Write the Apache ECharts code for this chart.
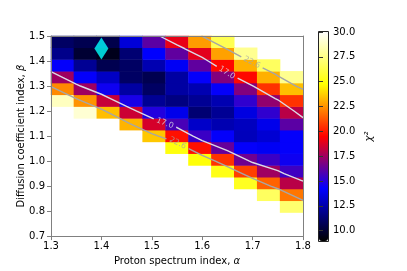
<!DOCTYPE html>
<html><head><meta charset="utf-8">
<script src="https://cdn.jsdelivr.net/npm/echarts@6/dist/echarts.min.js"></script>
<style>html,body{margin:0;padding:0;background:#fff}#c{width:407px;height:271px}</style>
</head><body><div id="c"></div>
<script>
// ---------------- data ----------------
const alphaValues = [1.30, 1.35, 1.40, 1.45, 1.50, 1.55, 1.60, 1.65, 1.70, 1.75, 1.80];
const betaValues  = [0.70, 0.75, 0.80, 0.85, 0.90, 0.95, 1.00, 1.05, 1.10, 1.15, 1.20, 1.25, 1.30, 1.35, 1.40, 1.45, 1.50];
// chi^2 per beta row (columns follow alphaValues); null = white cell (above colour range, not readable)
const chi2_b150 = [11.0, 10.6, 10.5, 13.4, 16.1, 19.0, 22.7, 26.4, null, null, null];
const chi2_b145 = [11.8, 10.0,  9.5, 11.3, 14.2, 16.2, 18.9, 22.8, 27.7, null, null];
const chi2_b140 = [14.3, 12.0, 10.6, 11.0, 12.6, 14.0, 16.2, 19.6, 23.1, 26.7, null];
const chi2_b135 = [17.5, 14.3, 13.0, 11.0, 10.6, 12.3, 14.3, 16.9, 19.6, 23.1, 27.7];
const chi2_b130 = [22.3, 17.5, 14.5, 12.3, 11.0, 12.3, 12.6, 14.3, 16.9, 20.5, 23.4];
const chi2_b125 = [28.7, 22.5, 18.3, 14.7, 12.0, 11.6, 12.0, 12.6, 15.2, 17.2, 20.5];
const chi2_b120 = [null, 29.1, 23.4, 18.4, 14.9, 13.8, 11.3, 12.0, 13.6, 15.2, 18.0];
const chi2_b115 = [null, null, null, 23.2, 18.6, 15.7, 13.1, 12.6, 12.9, 13.8, 16.1];
const chi2_b110 = [null, null, null, null, 23.6, 19.8, 15.4, 14.3, 12.8, 13.3, 14.3];
const chi2_b105 = [null, null, null, null, null, 25.0, 19.8, 16.3, 14.3, 14.0, 14.3];
const chi2_b100 = [null, null, null, null, null, null, 24.9, 20.5, 16.5, 15.4, 14.5];
const chi2_b095 = [null, null, null, null, null, null, null, 25.2, 20.8, 17.5, 15.5];
const chi2_b090 = [null, null, null, null, null, null, null, null, 25.4, 21.5, 18.0];
const chi2_b085 = [null, null, null, null, null, null, null, null, null, 26.7, 21.9];
const chi2_b080 = [null, null, null, null, null, null, null, null, null, null, 27.0];
const chi2_b075 = [null, null, null, null, null, null, null, null, null, null, null];
const chi2_b070 = [null, null, null, null, null, null, null, null, null, null, null];
const contourLevels = [17.0, 22.6];
const bestFit = [1.40, 1.45];
const xTicks = [1.3, 1.8];          // axis range
const yTicks = [0.7, 1.5];
const colorRange = [8.95, 30.0];
const colorbarTicks = [10.0, 12.5, 15.0, 17.5, 20.0, 22.5, 25.0, 27.5, 30.0];

// ---------------- layout / style ----------------
const GRID = {left: 51, top: 36, width: 252, height: 201};
const CB = {left: 319, top: 32, width: 9, height: 209};
const FONT = 'DejaVu Sans';
const FRAME = '#808080';
const cmap = ['#000000', '#0000ff', '#ff0000', '#ffff00', '#ffffff'];
const contourColors = {'17': '#dadae6', '22.6': '#a6a6a6'};
const labelSpots = [
  {level: 17.0, near: [1.649, 1.353]},
  {level: 17.0, near: [1.526, 1.151]},
  {level: 22.6, near: [1.699, 1.396]},
  {level: 22.6, near: [1.550, 1.066]}
];
const GAP = 12;

const z = [chi2_b070, chi2_b075, chi2_b080, chi2_b085, chi2_b090, chi2_b095, chi2_b100, chi2_b105,
           chi2_b110, chi2_b115, chi2_b120, chi2_b125, chi2_b130, chi2_b135, chi2_b140, chi2_b145, chi2_b150];

const heatData = [];
z.forEach((row, j) => row.forEach((v, i) => { if (v != null) heatData.push([i, j, v]); }));

// ---------------- marching squares ----------------
function contourSegments(level) {
  const segs = [];
  const val = v => (v == null ? Infinity : v);
  for (let j = 0; j < betaValues.length - 1; j++) {
    for (let i = 0; i < alphaValues.length - 1; i++) {
      const v = [val(z[j][i]), val(z[j][i + 1]), val(z[j + 1][i + 1]), val(z[j + 1][i])];
      const p = [[alphaValues[i], betaValues[j]], [alphaValues[i + 1], betaValues[j]],
                 [alphaValues[i + 1], betaValues[j + 1]], [alphaValues[i], betaValues[j + 1]]];
      const keys = ['h' + i + '_' + j, 'v' + (i + 1) + '_' + j, 'h' + i + '_' + (j + 1), 'v' + i + '_' + j];
      const pts = [];
      for (let e = 0; e < 4; e++) {
        const a = e, b = (e + 1) % 4, va = v[a], vb = v[b];
        if ((va < level) !== (vb < level)) {
          let t = (level - va) / (vb - va);
          if (!isFinite(t)) t = isFinite(va) ? 0 : 1;
          pts.push({key: keys[e], pt: [p[a][0] + t * (p[b][0] - p[a][0]), p[a][1] + t * (p[b][1] - p[a][1])]});
        }
      }
      if (pts.length === 2) segs.push([pts[0], pts[1]]);
      else if (pts.length === 4) {
        const c = (v[0] + v[1] + v[2] + v[3]) / 4;
        if ((c < level) === (v[0] < level)) { segs.push([pts[0], pts[1]]); segs.push([pts[2], pts[3]]); }
        else { segs.push([pts[3], pts[0]]); segs.push([pts[1], pts[2]]); }
      }
    }
  }
  return segs;
}
function chain(segs) {
  const byKey = {};
  segs.forEach((s, idx) => s.forEach(q => (byKey[q.key] = byKey[q.key] || []).push(idx)));
  const used = segs.map(() => false);
  const isEnd = s => s.some(q => byKey[q.key].length === 1);
  const order = segs.map((s, i) => i).sort((a, b) => (isEnd(segs[a]) ? 0 : 1) - (isEnd(segs[b]) ? 0 : 1));
  const lines = [];
  for (const st of order) {
    if (used[st]) continue;
    used[st] = true;
    let a = segs[st][0], b = segs[st][1];
    if (byKey[a.key].length !== 1 && byKey[b.key].length === 1) { const t = a; a = b; b = t; }
    const line = [a.pt, b.pt];
    let cur = b.key;
    for (;;) {
      const nx = (byKey[cur] || []).find(k => !used[k]);
      if (nx === undefined) break;
      used[nx] = true;
      const far = segs[nx][0].key === cur ? segs[nx][1] : segs[nx][0];
      line.push(far.pt); cur = far.key;
    }
    lines.push(line);
  }
  return lines;
}
const sx = GRID.width / (xTicks[1] - xTicks[0]);
const sy = GRID.height / (yTicks[1] - yTicks[0]);
const toPx = p => [(p[0] - xTicks[0]) * sx, (p[1] - yTicks[0]) * sy];

function cutLine(line, centers) {
  const pieces = []; let cur = [];
  const ins = p => centers.some(c => { const q = toPx(p); return Math.hypot(q[0] - c[0], q[1] - c[1]) < GAP; });
  let state = ins(line[0]);
  if (!state) cur.push(line[0]);
  for (let k = 1; k < line.length; k++) {
    const a = line[k - 1], b = line[k], A = toPx(a), B = toPx(b);
    const ts = [];
    centers.forEach(c => {
      const dx = B[0] - A[0], dy = B[1] - A[1], fx = A[0] - c[0], fy = A[1] - c[1];
      const qa = dx * dx + dy * dy, qb = 2 * (fx * dx + fy * dy), qc = fx * fx + fy * fy - GAP * GAP;
      const disc = qb * qb - 4 * qa * qc;
      if (qa > 0 && disc > 0) {
        const r = Math.sqrt(disc);
        [(-qb - r) / (2 * qa), (-qb + r) / (2 * qa)].forEach(t => { if (t > 0 && t < 1) ts.push(t); });
      }
    });
    ts.sort((x, y) => x - y);
    ts.forEach(t => {
      const m = [a[0] + t * (b[0] - a[0]), a[1] + t * (b[1] - a[1])];
      if (!state) { cur.push(m); if (cur.length > 1) pieces.push(cur); cur = []; }
      else { cur = [m]; }
      state = !state;
    });
    if (!state) cur.push(b);
  }
  if (cur.length > 1) pieces.push(cur);
  return pieces;
}

const lineSeries = [];
const labelData = [];
contourLevels.forEach(level => {
  const lines = chain(contourSegments(level));
  const color = contourColors[String(level)];
  const spots = labelSpots.filter(s => s.level === level);
  const centers = [];
  spots.forEach(s => {
    const P = toPx(s.near);
    let best = null;
    lines.forEach(l => {
      for (let k = 1; k < l.length; k++) {
        const A = toPx(l[k - 1]), B = toPx(l[k]);
        const dx = B[0] - A[0], dy = B[1] - A[1];
        let t = ((P[0] - A[0]) * dx + (P[1] - A[1]) * dy) / (dx * dx + dy * dy);
        t = Math.max(0, Math.min(1, t));
        const Q = [A[0] + t * dx, A[1] + t * dy];
        const d = Math.hypot(Q[0] - P[0], Q[1] - P[1]);
        if (!best || d < best.d) best = {d, Q, ang: Math.atan2(dy, dx) * 180 / Math.PI};
      }
    });
    if (!best) return;
    let ang = best.ang;
    if (ang > 90) ang -= 180;
    if (ang < -90) ang += 180;
    centers.push(best.Q);
    labelData.push({
      value: [best.Q[0] / sx + xTicks[0], best.Q[1] / sy + yTicks[0]],
      label: {show: true, formatter: level.toFixed(1), rotate: ang, color: color}
    });
  });
  lines.forEach(l => cutLine(l, centers).forEach(piece => {
    lineSeries.push({
      type: 'line', xAxisIndex: 1, yAxisIndex: 1, data: piece, showSymbol: false, symbol: 'none',
      lineStyle: {color: color, width: 1.4}, silent: true, z: 5, clip: true
    });
  }));
});

// ---------------- chart ----------------
const chart = echarts.init(document.getElementById('c'), null, {renderer: 'canvas', width: 407, height: 271});
const txt = {color: '#000', fontSize: 10, fontFamily: FONT};
const frameAxis = {axisLine: {show: true, onZero: false, lineStyle: {color: FRAME, width: 1}},
                   axisTick: {show: false}, axisLabel: {show: false}, splitLine: {show: false}, z: 10};
chart.setOption({
  animation: false,
  backgroundColor: '#ffffff',
  textStyle: {fontFamily: FONT},
  grid: [
    {left: GRID.left, top: GRID.top, width: GRID.width, height: GRID.height},
    {left: CB.left, top: CB.top, width: CB.width, height: CB.height}
  ],
  xAxis: [
    {type: 'category', gridIndex: 0, data: alphaValues.map(String), show: false},
    {type: 'value', gridIndex: 0, min: xTicks[0], max: xTicks[1], interval: 0.1, position: 'bottom', z: 10,
     axisLine: {show: true, onZero: false, lineStyle: {color: FRAME, width: 1}},
     axisTick: {show: true, inside: false, length: 4, lineStyle: {color: FRAME}},
     axisLabel: Object.assign({margin: 5, formatter: v => v.toFixed(1)}, txt),
     splitLine: {show: false},
     name: 'Proton spectrum index, {i|α}', nameLocation: 'middle', nameGap: 17,
     nameTextStyle: Object.assign({rich: {i: {fontStyle: 'italic', fontSize: 10, fontFamily: FONT, color: '#000'}}}, txt)},
    Object.assign({type: 'value', gridIndex: 0, min: xTicks[0], max: xTicks[1], position: 'top'}, frameAxis),
    {type: 'value', gridIndex: 1, min: 0, max: 1, show: false}
  ],
  yAxis: [
    {type: 'category', gridIndex: 0, data: betaValues.map(String), show: false},
    {type: 'value', gridIndex: 0, min: yTicks[0], max: yTicks[1], interval: 0.1, position: 'left', z: 10,
     axisLine: {show: true, onZero: false, lineStyle: {color: FRAME, width: 1}},
     axisTick: {show: true, inside: false, length: 4, lineStyle: {color: FRAME}},
     axisLabel: Object.assign({margin: 6, formatter: v => v.toFixed(1)}, txt),
     splitLine: {show: false},
     name: 'Diffusion coefficient index, {i|β}', nameLocation: 'middle', nameGap: 25, nameRotate: 90,
     nameMoveOverlap: false,
     nameTextStyle: Object.assign({rich: {i: {fontStyle: 'italic', fontSize: 10, fontFamily: FONT, color: '#000'}}}, txt)},
    Object.assign({type: 'value', gridIndex: 0, min: yTicks[0], max: yTicks[1], position: 'right'}, frameAxis),
    {type: 'value', gridIndex: 1, min: colorRange[0], max: colorRange[1], position: 'right', z: 10,
     axisLine: {show: false},
     axisTick: {show: true, inside: false, length: 4, customValues: colorbarTicks, lineStyle: {color: '#333'}},
     axisLabel: Object.assign({margin: 5, customValues: colorbarTicks, formatter: v => v.toFixed(1)}, txt),
     splitLine: {show: false},
     name: 'χ²', nameLocation: 'middle', nameGap: 36, nameRotate: 90,
     nameTextStyle: Object.assign({fontStyle: 'italic'}, txt)}
  ],
  visualMap: {
    type: 'continuous', min: colorRange[0], max: colorRange[1], dimension: 2, seriesIndex: 0,
    show: true, left: CB.left, top: CB.top, itemWidth: CB.width, itemHeight: CB.height, padding: 0,
    calculable: false, hoverLink: false, showLabel: false, orient: 'vertical',
    inRange: {color: cmap}
  },
  graphic: [{type: 'rect', z: 100, silent: true,
    shape: {x: CB.left - 0.5, y: CB.top - 0.5, width: CB.width + 1, height: CB.height + 1},
    style: {fill: null, stroke: '#222', lineWidth: 1}}],
  series: [
    {type: 'heatmap', xAxisIndex: 0, yAxisIndex: 0, data: heatData, silent: true, z: 2,
     itemStyle: {borderWidth: 0}, emphasis: {disabled: true}}
  ].concat(lineSeries).concat([
    {type: 'scatter', xAxisIndex: 1, yAxisIndex: 1, data: labelData, symbolSize: 0, silent: true, z: 7,
     label: {show: true, position: 'inside', fontSize: 8, fontFamily: FONT}},
    {type: 'scatter', xAxisIndex: 1, yAxisIndex: 1, data: [bestFit], symbol: 'diamond', symbolSize: [14, 22],
     itemStyle: {color: '#00ffff'}, silent: true, z: 8}
  ])
});
</script></body></html>
